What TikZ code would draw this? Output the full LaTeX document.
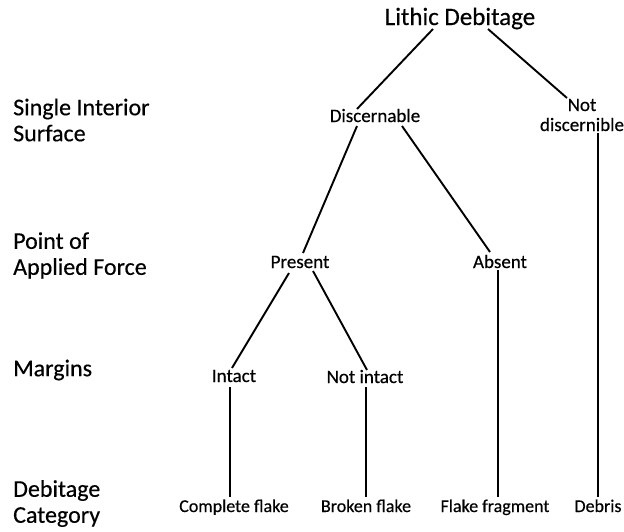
\documentclass[tikz,border=0pt]{standalone}
\usepackage{fontspec}
\setmainfont{Carlito}[FakeBold=0.4]
\usetikzlibrary{calc}
\tikzset{
  sidelabel/.style={anchor=west, align=left, inner sep=0pt, font=\fontsize{24}{26}\selectfont},
  titlelabel/.style={anchor=base, inner sep=0pt, font=\fontsize{25}{28}\selectfont},
  treenode/.style={anchor=base, inner sep=0pt, align=center, font=\fontsize{19}{20}\selectfont},
  leafnode/.style={anchor=base, inner sep=0pt, font=\fontsize{18}{20}\selectfont},
  branch/.style={line width=1.9pt, black}
}
\begin{document}
\begin{tikzpicture}[x=1pt,y=-1pt]
\useasboundingbox (0,0) rectangle (624,531);
% side labels
\node[sidelabel] (l1) at (13,120) {Single Interior\\Surface};
\node[sidelabel] (l2) at (13,255.5) {Point of\\Applied Force};
\node[sidelabel] (l3) at (13,370) {Margins};
\node[sidelabel] (l4) at (13,503.5) {Debitage\\Category};
% tree
\node[titlelabel] (title) at (460,25) {Lithic Debitage};
\node[treenode] (disc) at (375,122) {Discernable};
\node[treenode] (notd) at (582,131) {Not\\discernible};
\node[treenode] (pres) at (300,268) {Present};
\node[treenode] (abs) at (500,268) {Absent};
\node[treenode] (intact) at (234,382) {Intact};
\node[treenode] (notint) at (365,383) {Not intact};
\node[leafnode] (complete) at (234,512) {Complete flake};
\node[leafnode] (broken) at (366,512) {Broken flake};
\node[leafnode] (fragment) at (495,512) {Flake fragment};
\node[leafnode] (debris) at (598,512) {Debris};
% connectors
\draw[branch] ($(title.base)+(-27,4)$) -- ($(disc.base)+(-18,-13)$);
\draw[branch] ($(title.base)+(28,4)$) -- ($(notd.base)+(-15,-33)$);
\draw[branch] ($(notd.base)+(16,2)$) -- ($(debris.base)+(0,-15)$);
\draw[branch] ($(disc.base)+(-18,4)$) -- ($(pres.base)+(3,-15)$);
\draw[branch] ($(disc.base)+(27,4)$) -- ($(abs.base)+(-10,-16)$);
\draw[branch] ($(pres.base)+(-11,5)$) -- ($(intact.base)+(-2,-14)$);
\draw[branch] ($(pres.base)+(13,3)$) -- ($(notint.base)+(2,-13)$);
\draw[branch] ($(intact.base)+(-4,5)$) -- ($(complete.base)+(-4,-15)$);
\draw[branch] ($(notint.base)+(1,4)$) -- ($(broken.base)+(0,-15)$);
\draw[branch] ($(abs.base)+(-2,2)$) -- ($(fragment.base)+(3,-15)$);
\end{tikzpicture}
\end{document}
